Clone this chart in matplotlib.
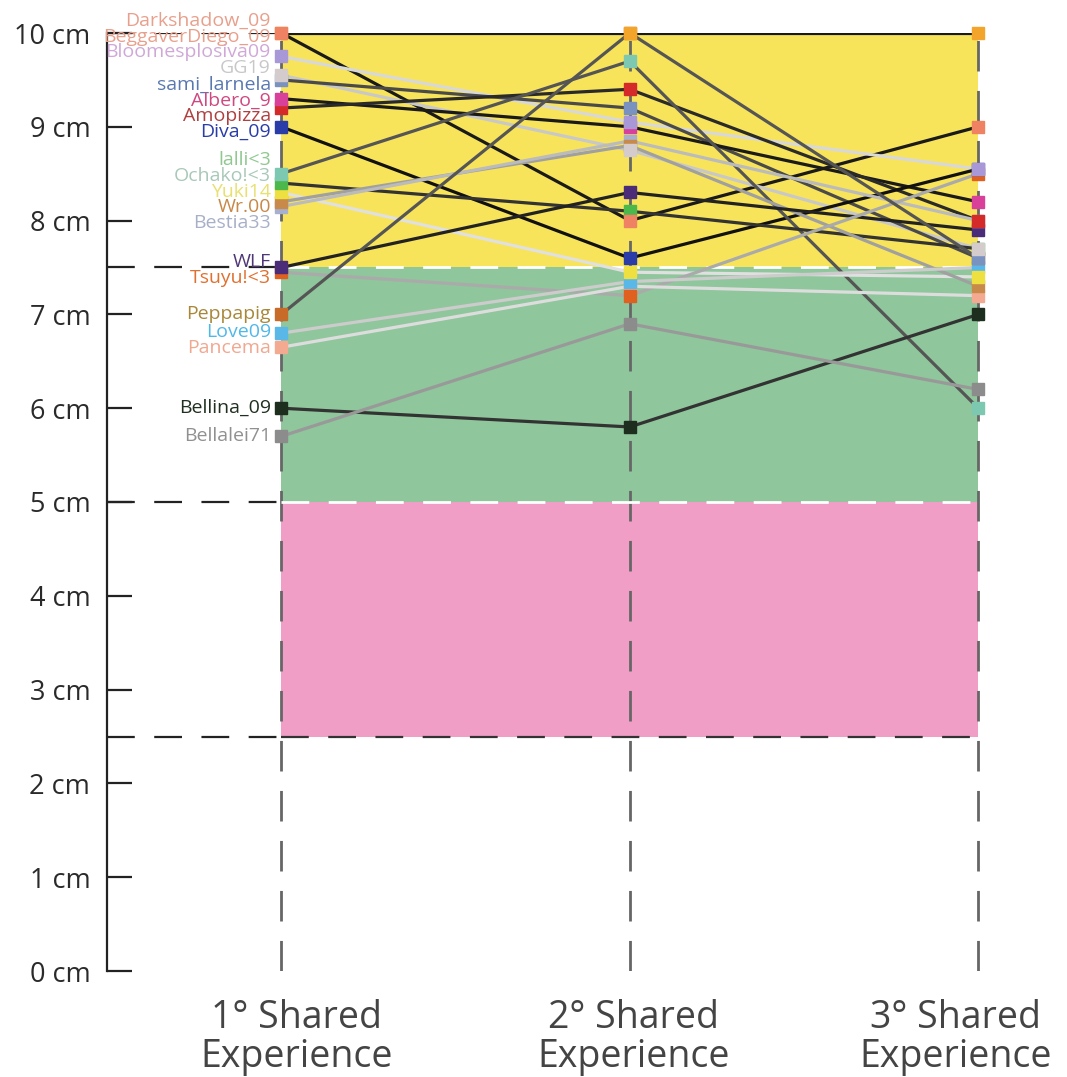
import matplotlib
matplotlib.use("Agg")
import matplotlib.pyplot as plt
import numpy as np

plt.rcParams['lines.scale_dashes'] = False

# ---- data ----
stages = ["1° Shared\nExperience", "2° Shared\nExperience", "3° Shared\nExperience"]
yticks = list(range(0, 11))
ytick_labels = [f"{v} cm" for v in yticks]

names = ["Darkshadow_09", "BeggaverDiego_09", "Bloomesplosiva09", "GG19", "sami_larnela",
         "Albero_9", "Amopizza", "Diva_09", "lalli<3", "Ochako!<3", "Yuki14", "Wr.00",
         "Bestia33", "WLF", "Tsuyu!<3", "Peppapig", "Love09", "Pancema", "Bellina_09", "Bellalei71"]
first = [10.0, 10.0, 9.75, 9.55, 9.5, 9.3, 9.2, 9.0, 8.5, 8.4, 8.3, 8.2, 8.15, 7.5, 7.45, 7.0, 6.8, 6.65, 6.0, 5.7]
second = [8.0, 10.0, 9.05, 8.75, 9.2, 9.0, 9.4, 7.6, 9.7, 8.1, 7.45, 8.8, 8.85, 8.3, 7.2, 10.0, 7.35, 7.3, 5.8, 6.9]
third = [9.0, 10.0, 8.55, 7.7, 7.6, 8.2, 8.0, 8.55, 6.0, 7.7, 7.4, 7.3, 8.0, 7.9, 8.5, 7.6, 7.5, 7.2, 7.0, 6.2]

marker_colors = ["#ee8262", "#f2a52a", "#a898d8", "#d4cccc", "#7a92c0", "#d8409a", "#d42a2a",
                 "#2a3ca8", "#7cc8b0", "#4cb84c", "#eee040", "#c88a4a", "#a8b0d0", "#4a2c78",
                 "#e06020", "#c86a28", "#5ab8e8", "#f4aa90", "#1e2e1e", "#8c8c8c"]
label_colors = ["#e8a08c", "#e8a08c", "#d0a8d8", "#c8c8c8", "#5a78b0", "#d04880", "#b04040",
                "#2a3ca8", "#90c890", "#a8c8b8", "#e8e070", "#c88848", "#a8b0c8", "#503878",
                "#e07030", "#a88838", "#50b8e8", "#f0a890", "#203020", "#909090"]
line_colors = ["#1a1a1a", "#1a1a1a", "#d8d8d8", "#c8c8c8", "#4a4a4a", "#1a1a1a", "#2a2a2a",
               "#111111", "#555555", "#333333", "#e0e0e0", "#a0a0a0", "#bbbbbb", "#222222",
               "#aaaaaa", "#555555", "#cccccc", "#dddddd", "#333333", "#999999"]

bands = [(7.5, 10.0, "#f8e45a"), (5.0, 7.5, "#8fc69c"), (2.5, 5.0, "#f19ec6")]

W, H = 1067, 1077
fig = plt.figure(figsize=(W / 100, H / 100), dpi=100)
ax = fig.add_axes([107 / W, 1 - 971 / H, (1048 - 107) / W, (971 - 33) / H])
ax.set_xlim(-0.5, 2.2)
ax.set_ylim(0, 10)

xs = np.arange(len(stages))

for lo, hi, c in bands:
    ax.fill_between([0, 2], lo, hi, color=c, zorder=0, linewidth=0)

# dashed guide lines
dash = (0, (20, 14))
for yv in [10, 7.5, 5, 2.5]:
    ax.plot([-0.5, 0], [yv, yv], color="#222222", lw=1.6, linestyle=dash, zorder=1)
ax.plot([0, 2], [2.5, 2.5], color="#333333", lw=1.6, linestyle=dash, zorder=1)
for yv in [7.5, 5]:
    ax.plot([0, 2], [yv, yv], color="white", lw=2.0, linestyle=dash, zorder=1.5)
for x in xs:
    ax.plot([x, x], [0, 10], color="#666666", lw=2.0, linestyle=(0, (22, 14)), zorder=1)

# series lines
data = np.array([first, second, third]).T
for i in range(len(names)):
    ax.plot(xs, data[i], color=line_colors[i], lw=2.3, zorder=2, solid_capstyle="round")
for i in reversed(range(len(names))):
    ax.plot(xs, data[i], linestyle="none", marker="s", markersize=9,
            color=marker_colors[i], zorder=3, clip_on=False)

# label dodge
order = np.argsort(-np.array(first), kind="stable")
pos = np.array(first, dtype=float)
gap = 0.17
for _ in range(400):
    moved = False
    for k in range(len(order) - 1):
        a, b = order[k], order[k + 1]
        d = pos[a] - pos[b]
        if d < gap:
            s = (gap - d) / 2
            pos[a] += s
            pos[b] -= s
            moved = True
    if not moved:
        break
for i, n in enumerate(names):
    ax.text(-0.03, pos[i], n, ha="right", va="center", fontsize=14,
            color=label_colors[i], family=["Open Sans", "DejaVu Sans"], zorder=4)

# axes styling
for s in ["top", "right", "bottom"]:
    ax.spines[s].set_visible(False)
ax.spines["left"].set_color("#222222")
ax.spines["left"].set_linewidth(1.6)
ax.set_yticks(yticks)
ax.set_yticklabels(ytick_labels, fontsize=19.5, color="#2a2a2a", family="Open Sans")
ax.tick_params(axis="y", direction="in", length=18, width=1.6, color="#222222", pad=12)
ax.set_xticks([])

# stage labels (centres nudged as in the reference so the last one fits)
nudges = [0.045, 0.01, -0.065]
for x, lab, dx in zip(xs, stages, nudges):
    ax.annotate(lab, xy=(x + dx, 0), xycoords=("data", "axes fraction"),
                xytext=(0, -20), textcoords="offset points", ha="center", va="top",
                fontsize=27, color="#444444", family="Open Sans", linespacing=1.05,
                annotation_clip=False)

fig.savefig("out.png", dpi=100)
